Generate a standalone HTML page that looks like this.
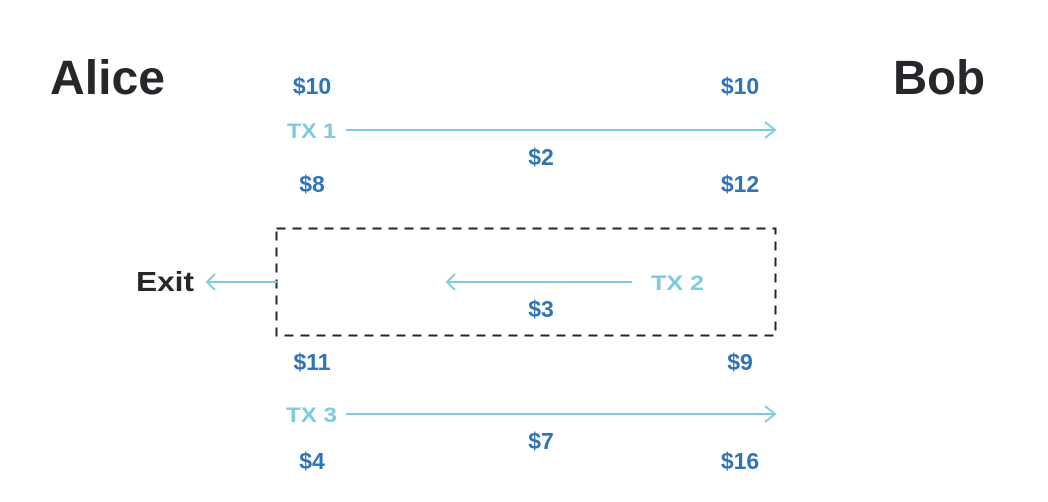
<!DOCTYPE html>
<html><head><meta charset="utf-8"><style>
html,body{margin:0;padding:0;background:#fff;}
svg{display:block;font-family:"Liberation Sans",sans-serif;}
.name{font-weight:bold;fill:#25272a;}
.amt{font-size:23px;font-weight:bold;fill:#2f73b8;}
.tx{font-size:21px;font-weight:bold;fill:#7ecbdf;}
.ln{stroke:#7ecbdf;stroke-width:2;fill:none;}
</style></head><body>
<svg width="1048" height="502" viewBox="0 0 1048 502">
<text class="name" x="50" y="94" font-size="48" textLength="115" lengthAdjust="spacingAndGlyphs">Alice</text>
<text class="name" x="893" y="94" font-size="48" textLength="92" lengthAdjust="spacingAndGlyphs">Bob</text>

<g>
<text class="amt" x="312" y="94" text-anchor="middle">$10</text>
<text class="amt" x="740" y="94" text-anchor="middle">$10</text>
<text class="tx" x="287" y="138" textLength="49" lengthAdjust="spacingAndGlyphs">TX 1</text>
<path class="ln" d="M346 130H775M765 122L775 130L765 138"/>
<text class="amt" x="541" y="165" text-anchor="middle">$2</text>
<text class="amt" x="312" y="192" text-anchor="middle">$8</text>
<text class="amt" x="740" y="192" text-anchor="middle">$12</text>
</g>

<g>
<rect x="276.5" y="228.5" width="499" height="107" fill="none" stroke="#25272a" stroke-width="2" stroke-dasharray="9,7"/>
<text class="name" x="136" y="291" font-size="28" textLength="58" lengthAdjust="spacingAndGlyphs">Exit</text>
<path class="ln" d="M277 282H207M215 274L207 282L215 290"/>
<path class="ln" d="M632 282H447M455 274L447 282L455 290"/>
<text class="tx" x="651" y="290" textLength="53" lengthAdjust="spacingAndGlyphs">TX 2</text>
<text class="amt" x="541" y="317" text-anchor="middle">$3</text>
</g>

<g>
<text class="amt" x="312" y="370" text-anchor="middle">$11</text>
<text class="amt" x="740" y="370" text-anchor="middle">$9</text>
<text class="tx" x="286" y="422" textLength="51" lengthAdjust="spacingAndGlyphs">TX 3</text>
<path class="ln" d="M346 414H775M765 406L775 414L765 422"/>
<text class="amt" x="541" y="449" text-anchor="middle">$7</text>
<text class="amt" x="312" y="469" text-anchor="middle">$4</text>
<text class="amt" x="740" y="469" text-anchor="middle">$16</text>
</g>
</svg>
</body></html>
